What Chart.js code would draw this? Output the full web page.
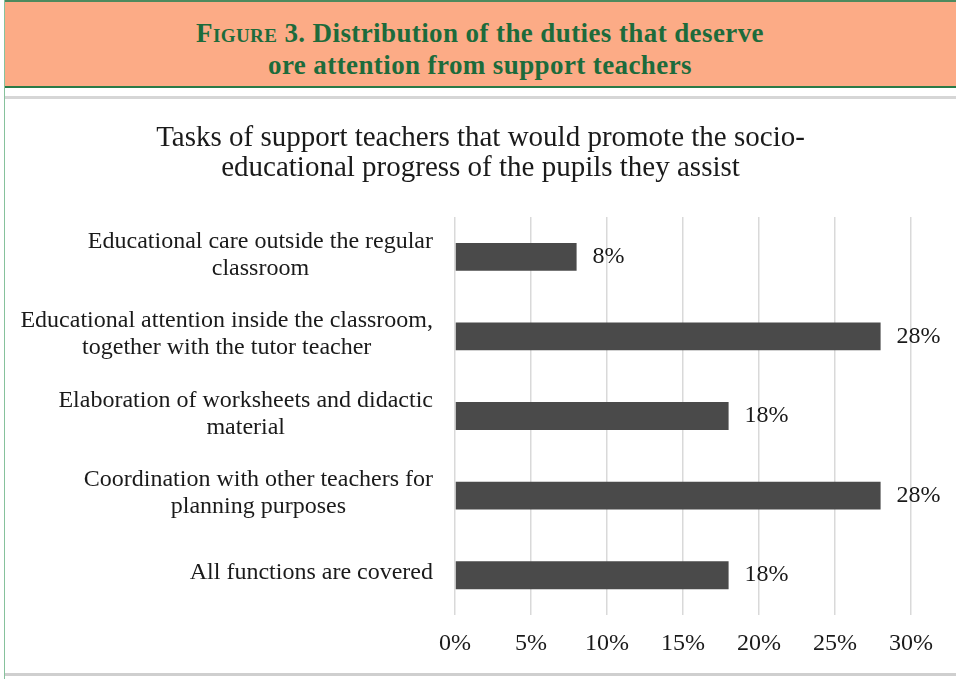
<!DOCTYPE html>
<html>
<head>
<meta charset="utf-8">
<script src="https://cdn.jsdelivr.net/npm/chart.js@4.4.0/dist/chart.umd.min.js"></script>
<style>
  body { margin: 0; background: #fff; }
  #page { position: relative; width: 956px; height: 679px; overflow: hidden; }
  #leftline { position: absolute; left: 4px; top: 0; width: 1px; height: 679px; background: #86c29c; }
  #banner {
    position: absolute; left: 4px; top: 0; width: 952px; height: 88px;
    background: #fcab86; border-top: 2px solid #4d8a5e; border-bottom: 2px solid #2a7a47;
    color: #1d6b3b; font-family: 'Liberation Serif', serif; font-weight: bold;
    font-size: 27px; letter-spacing: 0.4px; line-height: 32px; text-align: center; padding-top: 15px; box-sizing: border-box;
  }
  #banner .sc { font-variant: small-caps; }
  #topgray { position: absolute; left: 5px; top: 96px; width: 951px; height: 3px; background: #d6d6d6; }
  #botgray { position: absolute; left: 5px; top: 673px; width: 951px; height: 3px; background: #cfcfcf; }
  #wrap { position: absolute; left: 5px; top: 100px; width: 951px; height: 570px; }
</style>
</head>
<body>
<div id="page">
  <div id="banner"><span class="sc">Figure</span> 3. Distribution of the duties that deserve<br>ore attention from support teachers</div>
  <div id="leftline"></div>
  <div id="topgray"></div>
  <div id="wrap"><canvas id="chart"></canvas></div>
  <div id="botgray"></div>
</div>
<script>
const categories = [
  ['Educational care outside the regular', 'classroom'],
  ['Educational attention inside the classroom,', 'together with the tutor teacher'],
  ['Elaboration of worksheets and didactic', 'material'],
  ['Coordination with other teachers for', 'planning purposes'],
  ['All functions are covered']
];
const shares = [8, 28, 18, 28, 18];
const tickValues = [0, 5, 10, 15, 20, 25, 30];

const textColor = '#1a1a1a';
const serif = "'Liberation Serif', 'Times New Roman', serif";

// category labels: block right aligned, lines centred inside the block
const yLabels = {
  id: 'yLabels',
  afterDraw(chart) {
    const ctx = chart.ctx;
    const y = chart.scales.y;
    const right = chart.chartArea.left - 22;
    ctx.save();
    ctx.font = '24px ' + serif;
    ctx.fillStyle = textColor;
    ctx.textAlign = 'center';
    ctx.textBaseline = 'middle';
    categories.forEach((lines, i) => {
      const cy = y.getPixelForTick(i) - 2;
      const w = Math.max(...lines.map(l => ctx.measureText(l).width));
      const cx = right - w / 2;
      lines.forEach((l, j) => {
        ctx.fillText(l, cx, cy + (j - (lines.length - 1) / 2) * 27);
      });
    });
    ctx.restore();
  }
};

// value labels after each bar
const valueLabels = {
  id: 'valueLabels',
  afterDatasetsDraw(chart) {
    const ctx = chart.ctx;
    ctx.save();
    ctx.font = '24px ' + serif;
    ctx.fillStyle = textColor;
    ctx.textAlign = 'left';
    ctx.textBaseline = 'middle';
    chart.getDatasetMeta(0).data.forEach((bar, i) => {
      ctx.fillText(shares[i] + '%', bar.x + 16, bar.y);
    });
    ctx.restore();
  }
};

new Chart(document.getElementById('chart'), {
  type: 'bar',
  data: {
    labels: categories,
    datasets: [{
      data: shares,
      xAxisID: 'x',
      yAxisID: 'y',
      backgroundColor: '#4a4a4a',
      borderWidth: 0,
      categoryPercentage: 1,
      barPercentage: 0.35
    }]
  },
  options: {
    indexAxis: 'y',
    responsive: true,
    maintainAspectRatio: false,
    animation: false,
    layout: { padding: 0 },
    scales: {
      x: {
        min: 0,
        max: 30,
        afterBuildTicks: s => { s.ticks = tickValues.map(v => ({ value: v })); },
        afterFit: s => { s.height = 55; },
        grid: { color: '#d9d9d9', lineWidth: 1.5, drawTicks: false },
        border: { display: false },
        ticks: {
          padding: 14,
          color: textColor,
          font: { family: serif, size: 24 },
          callback: v => v + '%'
        }
      },
      y: {
        grid: { display: false, drawTicks: false },
        border: { display: false },
        ticks: { display: false },
        afterFit: s => { s.width = 450; }
      },
      // empty right axis, only keeps room for the value labels
      yRight: {
        type: 'category',
        position: 'right',
        grid: { display: false, drawTicks: false },
        border: { display: false },
        ticks: { display: false },
        afterFit: s => { s.width = 45; }
      }
    },
    plugins: {
      legend: { display: false },
      tooltip: { enabled: false },
      title: {
        display: true,
        text: ['Tasks of support teachers that would promote the socio-', 'educational progress of the pupils they assist'],
        color: textColor,
        font: { family: serif, size: 29, weight: 'normal', lineHeight: 1.035 },
        padding: { top: 23, bottom: 34 }
      }
    }
  },
  plugins: [yLabels, valueLabels]
});
</script>
</body>
</html>
